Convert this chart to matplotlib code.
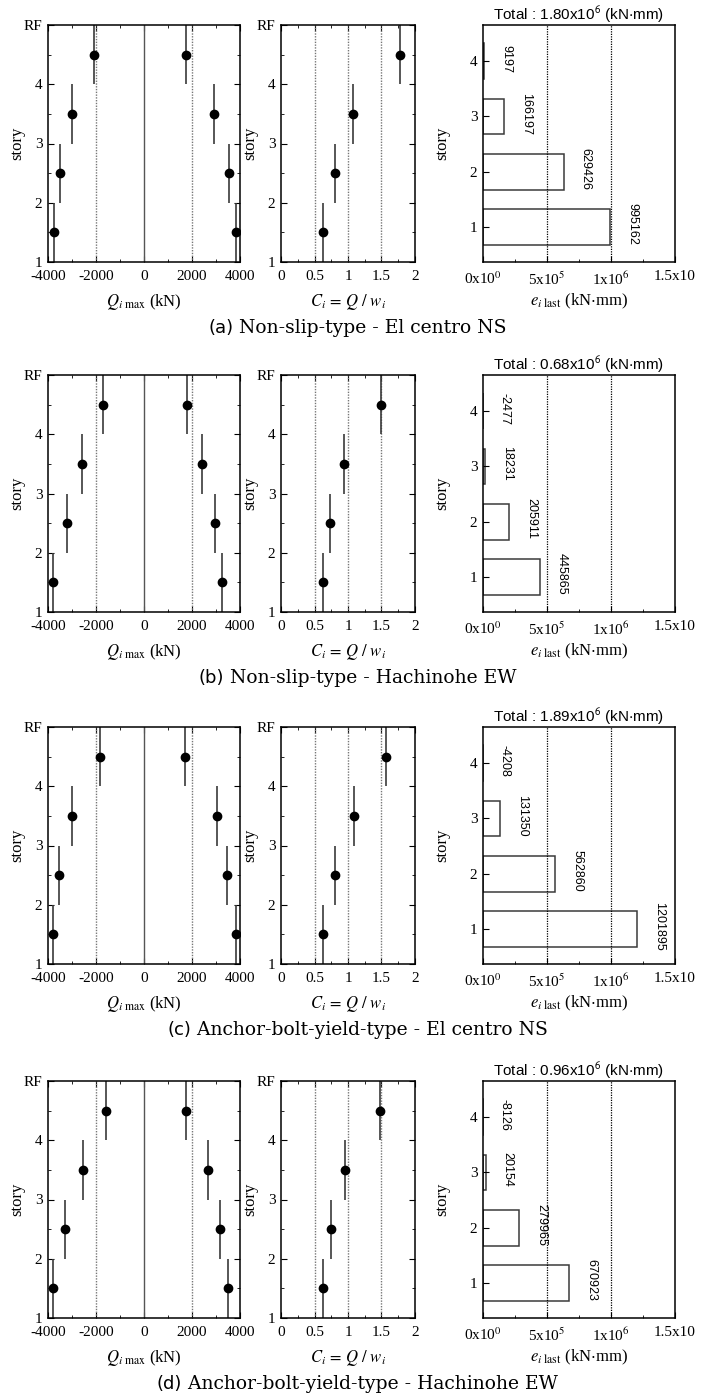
import matplotlib
matplotlib.use("Agg")
import matplotlib.pyplot as plt
from matplotlib.offsetbox import TextArea, HPacker, AnnotationBbox

plt.rcParams["font.family"] = "Liberation Serif"
plt.rcParams["mathtext.fontset"] = "stix"
plt.rcParams["axes.linewidth"] = 1.1
plt.rcParams["axes.unicode_minus"] = False

# story numbers (1 = ground floor)
stories = [1, 2, 3, 4]

# max story shear, negative and positive side (kN)
q_neg_a = [-3764, -3486, -3000, -2070]
q_pos_a = [3820, 3542, 2903, 1764]
q_neg_b = [-3810, -3227, -2600, -1697]
q_pos_b = [3240, 2962, 2406, 1780]
q_neg_c = [-3800, -3540, -2990, -1836]
q_pos_c = [3850, 3463, 3060, 1697]
q_neg_d = [-3806, -3278, -2542, -1569]
q_pos_d = [3500, 3153, 2653, 1750]

# shear coefficient Ci
ci_a = [0.63, 0.80, 1.08, 1.77]
ci_b = [0.63, 0.73, 0.935, 1.495]
ci_c = [0.62, 0.80, 1.09, 1.56]
ci_d = [0.62, 0.746, 0.955, 1.48]

# energy at end (kN*mm)
e_a = [995162, 629426, 166197, 9197]
e_b = [445865, 205911, 18231, -2477]
e_c = [1201895, 562860, 131350, -4208]
e_d = [670923, 279965, 20154, -8126]
totals = ["1.80", "0.68", "1.89", "0.96"]

captions = [("(a)", " Non-slip-type - El centro NS"),
            ("(b)", " Non-slip-type - Hachinohe EW"),
            ("(c)", " Anchor-bolt-yield-type - El centro NS"),
            ("(d)", " Anchor-bolt-yield-type - Hachinohe EW")]

rows = [(q_neg_a, q_pos_a, ci_a, e_a),
        (q_neg_b, q_pos_b, ci_b, e_b),
        (q_neg_c, q_pos_c, ci_c, e_c),
        (q_neg_d, q_pos_d, ci_d, e_d)]

W, H = 708, 1396
fig = plt.figure(figsize=(W / 100, H / 100), dpi=100)

row_tops = [25, 375, 727, 1081]
ax_h = 237
fs = 11
line_col = "#3a3a3a"
dot = (0, (1, 1))


def box(left, width, top):
    return [left / W, 1 - (top + ax_h) / H, width / W, ax_h / H]


def style(ax, size=fs, full=True):
    ax.tick_params(which="both", direction="in", top=full, right=full,
                   labelsize=size)
    ax.tick_params(axis="x", pad=6)
    ax.tick_params(axis="y", pad=4)
    ax.tick_params(which="major", length=4)
    ax.tick_params(which="minor", length=2.5)


for r, (qn, qp, ci, en) in enumerate(rows):
    top = row_tops[r]

    # --- max shear force
    ax1 = fig.add_axes(box(48, 192, top))
    ax1.axvline(0, color="#555555", lw=1)
    for xv in (-2000, 2000):
        ax1.axvline(xv, color="#777777", lw=1, ls=dot)
    for vals in (qn, qp):
        ax1.vlines(vals, stories, [s + 1 for s in stories], color=line_col, lw=1.2)
        ax1.plot(vals, [s + 0.5 for s in stories], "o", color="k", ms=6)
    ax1.set_xlim(-4000, 4000)
    ax1.set_ylim(1, 5)
    ax1.set_xticks([-4000, -2000, 0, 2000, 4000])
    ax1.set_xticks([-3000, -1000, 1000, 3000], minor=True)
    ax1.set_yticks([1, 2, 3, 4, 5], ["1", "2", "3", "4", "RF"])
    ax1.set_yticks([1.5, 2.5, 3.5, 4.5], minor=True)
    style(ax1)
    ax1.set_xlabel(r"$Q_{i\ \mathrm{max}}$ (kN)", fontsize=12)
    ax1.xaxis.set_label_coords(0.5, -0.125)
    ax1.set_ylabel("story", fontsize=12)
    ax1.yaxis.set_label_coords(-0.12, 0.5)

    # --- shear coefficient
    ax2 = fig.add_axes(box(281, 134, top))
    for xv in (0.5, 1.0, 1.5):
        ax2.axvline(xv, color="#777777", lw=1, ls=dot)
    ax2.vlines(ci, stories, [s + 1 for s in stories], color=line_col, lw=1.2)
    ax2.plot(ci, [s + 0.5 for s in stories], "o", color="k", ms=6)
    ax2.set_xlim(0, 2)
    ax2.set_ylim(1, 5)
    ax2.set_xticks([0, 0.5, 1, 1.5, 2], ["0", "0.5", "1", "1.5", "2"])
    ax2.set_xticks([0.25, 0.75, 1.25, 1.75], minor=True)
    ax2.set_yticks([1, 2, 3, 4, 5], ["1", "2", "3", "4", "RF"])
    ax2.set_yticks([1.5, 2.5, 3.5, 4.5], minor=True)
    style(ax2)
    ax2.set_xlabel(r"$C_i\,=\,Q\ /\ w_i$", fontsize=12)
    ax2.xaxis.set_label_coords(0.5, -0.125)
    ax2.set_ylabel("story", fontsize=12)
    ax2.yaxis.set_label_coords(-0.17, 0.5)

    # --- energy
    ax3 = fig.add_axes(box(483, 192, top))
    for xv in (5e5, 1e6):
        ax3.axvline(xv, color="k", lw=0.9, ls=dot)
    ax3.barh(stories, en, height=0.65, facecolor="white",
             edgecolor=line_col, lw=1.1)
    for s, v in zip(stories, en):
        ax3.text(max(v, 0) + 1.25e5, s + 0.05, str(v), rotation=270,
                 ha="left", va="center", fontsize=9,
                 family="Liberation Sans")
    ax3.set_xlim(0, 1.5e6)
    ax3.set_ylim(0.36, 4.66)
    ax3.set_xticks([0, 5e5, 1e6, 1.5e6],
                   [r"0x10$^{0}$", r"5x10$^{5}$", r"1x10$^{6}$", "1.5x10"])
    ax3.set_xticks([2.5e5, 7.5e5, 1.25e6], minor=True)
    ax3.set_yticks(stories)
    style(ax3, size=11, full=False)
    ax3.set_xlabel(r"$e_{i\ \mathrm{last}}$ (kN$\cdot$mm)", fontsize=12)
    ax3.xaxis.set_label_coords(0.5, -0.125)
    ax3.set_ylabel("story", fontsize=12)
    ax3.yaxis.set_label_coords(-0.17, 0.5)
    ax3.set_title(r"Total : " + totals[r] + r"x10$^{\mathsf{6}}$ (kN$\cdot$mm)",
                  fontsize=11, family="Liberation Sans", pad=3)

    # --- caption
    tag, rest = captions[r]
    t1 = TextArea(tag, textprops=dict(family="DejaVu Sans", fontsize=13))
    t2 = TextArea(rest, textprops=dict(family="DejaVu Serif", fontsize=13.5))
    pack = HPacker(children=[t1, t2], pad=0, sep=0, align="baseline")
    cy = 1 - (top + ax_h + 66) / H
    fig.add_artist(AnnotationBbox(pack, (0.505, cy), xycoords="figure fraction",
                                  frameon=False, box_alignment=(0.5, 0.5)))

fig.savefig("out.png", dpi=100)
